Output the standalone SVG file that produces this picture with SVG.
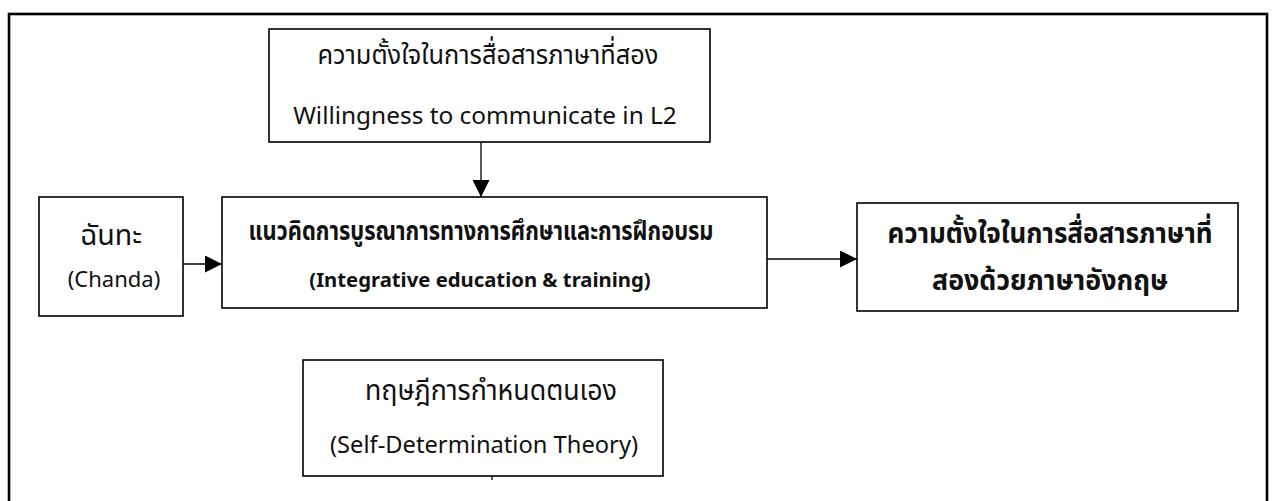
<svg xmlns="http://www.w3.org/2000/svg" width="1273" height="501" viewBox="0 0 1273 501">
<style>
.box{fill:#fff;stroke:#000;stroke-width:1.6}
.frame{fill:none;stroke:#000;stroke-width:2.6}
.t{font-family:"Noto Sans","Noto Sans Thai","DejaVu Sans",sans-serif;font-size:22px;fill:#111;text-anchor:middle}
.b{font-weight:bold}
.c{stroke:#000;stroke-width:1.3;fill:none}
</style>
<defs>
<marker id="ah" viewBox="0 0 10 10" refX="10" refY="5" markerWidth="17" markerHeight="17" markerUnits="userSpaceOnUse" orient="auto">
<path d="M0,0 L10,5 L0,10 z" fill="#000"/>
</marker>
</defs>
<rect width="1273" height="501" fill="#fff"/>
<rect class="frame" x="9" y="14" width="1258" height="510"/>
<g id="connectors">
<line class="c" x1="481" y1="142" x2="481" y2="197" marker-end="url(#ah)"/>
<line class="c" x1="183" y1="264" x2="222" y2="264" marker-end="url(#ah)"/>
<line class="c" x1="767" y1="259" x2="857" y2="259" marker-end="url(#ah)"/>
<line class="c" x1="492" y1="476" x2="492" y2="480"/>
</g>
<g id="wtc">
<rect class="box" x="269" y="29" width="441" height="113"/>
<text class="t" x="488" y="64" style="font-size:27.5px" textLength="341" lengthAdjust="spacingAndGlyphs">ความตั้งใจในการสื่อสารภาษาที่สอง</text>
<text class="t" x="485" y="124" style="font-size:24.4px">Willingness to communicate in L2</text>
</g>
<g id="chanda">
<rect class="box" x="39" y="197" width="144" height="119"/>
<text class="t" x="111" y="245" style="font-size:28px" textLength="62" lengthAdjust="spacingAndGlyphs">ฉันทะ</text>
<text class="t" x="114" y="287">(Chanda)</text>
</g>
<g id="integrative">
<rect class="box" x="222" y="197" width="545" height="111"/>
<text class="t b" x="481" y="240" style="font-size:26px" textLength="465" lengthAdjust="spacingAndGlyphs">แนวคิดการบูรณาการทางการศึกษาและการฝึกอบรม</text>
<text class="t b" x="480" y="287" style="font-size:20.3px">(Integrative education &amp; training)</text>
</g>
<g id="outcome">
<rect class="box" x="857" y="203" width="381" height="108"/>
<text class="t b" x="1050" y="243" style="font-size:28.5px" textLength="325" lengthAdjust="spacingAndGlyphs">ความตั้งใจในการสื่อสารภาษาที่</text>
<text class="t b" x="1050" y="290" style="font-size:28.5px" textLength="236" lengthAdjust="spacingAndGlyphs">สองด้วยภาษาอังกฤษ</text>
</g>
<g id="sdt">
<rect class="box" x="303" y="360" width="360" height="116"/>
<text class="t" x="491" y="400" style="font-size:28.5px" textLength="252" lengthAdjust="spacingAndGlyphs">ทฤษฎีการกำหนดตนเอง</text>
<text class="t" x="484" y="453" style="font-size:23.7px">(Self-Determination Theory)</text>
</g>
</svg>
